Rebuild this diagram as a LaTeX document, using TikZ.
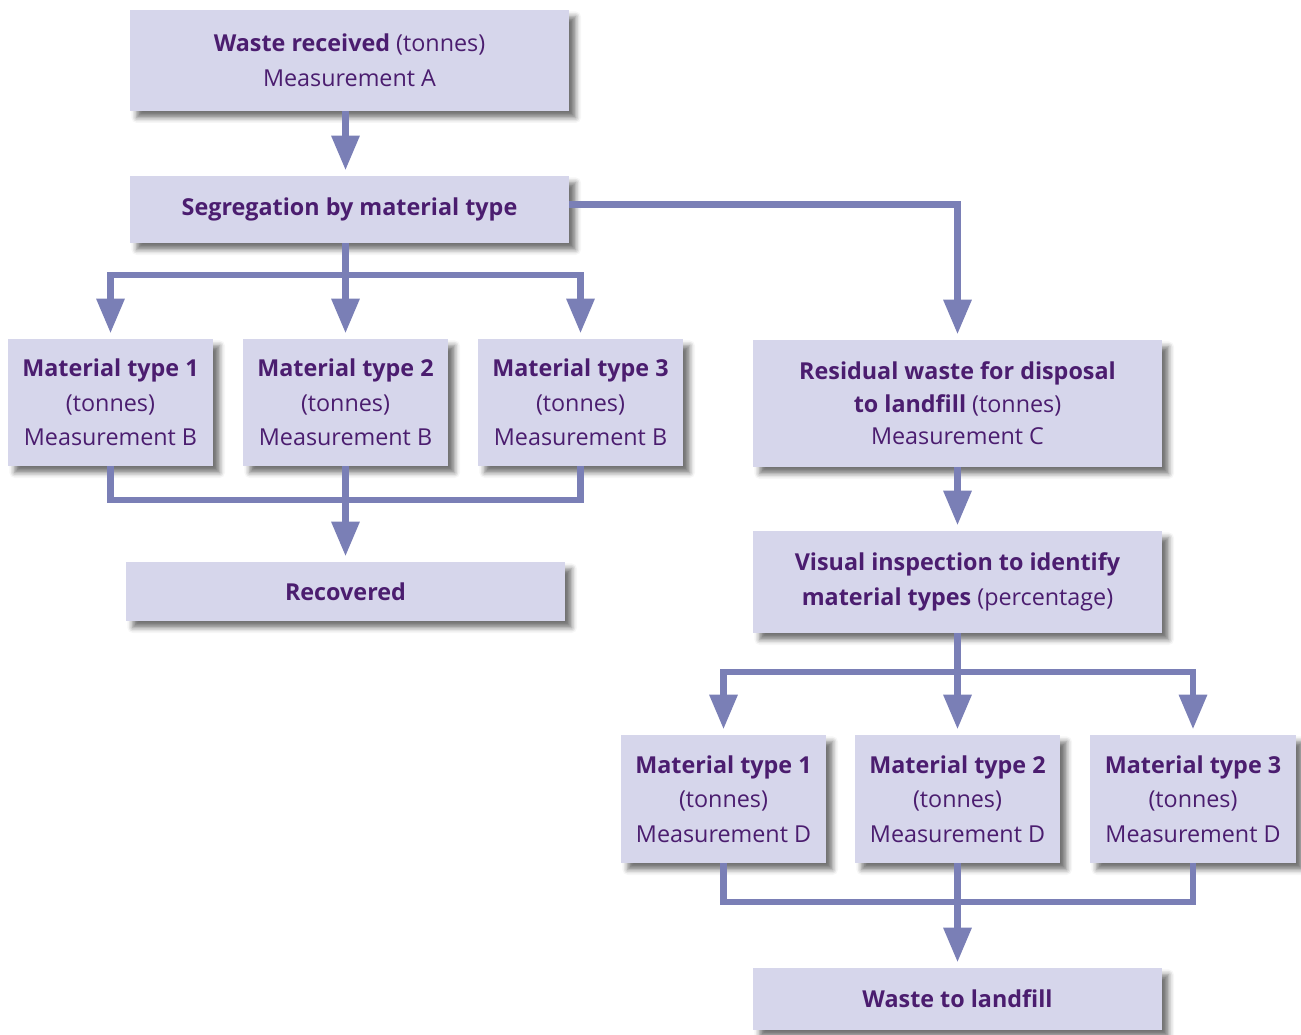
\documentclass[tikz,border=0pt]{standalone}
\usepackage{fontspec}
\setmainfont{Open Sans}
\usetikzlibrary{arrows.meta,shadows.blur}
\definecolor{boxfill}{HTML}{D6D6EB}
\definecolor{txt}{HTML}{4B1D6F}
\definecolor{conn}{HTML}{7A7FB6}
\begin{document}
\begin{tikzpicture}[x=0.75pt,y=-0.75pt,
  box/.style={fill=boxfill, text=txt, align=center, inner sep=0pt,
    font=\fontsize{17.5pt}{26pt}\selectfont,
    blur shadow={shadow xshift=5pt, shadow yshift=-5pt, shadow blur radius=4pt, shadow opacity=55}},
  line/.style={draw=conn, line width=5.2pt},
  arr/.style={line, -{Triangle[width=20pt,length=26pt]}, shorten >=4pt}]
\useasboundingbox (0,0) rectangle (1301,1034);

\node[box, minimum width=329.25pt, minimum height=75.75pt] (A) at (349.5,60.5) {\textbf{Waste received} (tonnes)\\Measurement A};
\node[box, minimum width=329.25pt, minimum height=50.25pt] (S) at (349.5,209.5) {\textbf{Segregation by material type}};

\node[box, minimum width=153.75pt, minimum height=95.25pt] (M1) at (110.5,402.5) {\textbf{Material type 1}\\(tonnes)\\Measurement B};
\node[box, minimum width=153.75pt, minimum height=95.25pt] (M2) at (345.5,402.5) {\textbf{Material type 2}\\(tonnes)\\Measurement B};
\node[box, minimum width=153.75pt, minimum height=95.25pt] (M3) at (580.5,402.5) {\textbf{Material type 3}\\(tonnes)\\Measurement B};
\node[box, minimum width=329.25pt, minimum height=44.25pt] (Rec) at (345.5,591.5) {\textbf{Recovered}};

\node[box, minimum width=306.75pt, minimum height=95.25pt, font=\fontsize{17.5pt}{24.5pt}\selectfont] (R) at (957.5,403.5) {\textbf{Residual waste for disposal}\\\textbf{to landfill} (tonnes)\\Measurement C};
\node[box, minimum width=306.75pt, minimum height=76.5pt] (V) at (957.5,582) {\textbf{Visual inspection to identify}\\\textbf{material types} (percentage)};

\node[box, minimum width=153.75pt, minimum height=96pt] (D1) at (723.5,799) {\textbf{Material type 1}\\(tonnes)\\Measurement D};
\node[box, minimum width=153.75pt, minimum height=96pt] (D2) at (957.5,799) {\textbf{Material type 2}\\(tonnes)\\Measurement D};
\node[box, minimum width=154.5pt, minimum height=96pt] (D3) at (1193,799) {\textbf{Material type 3}\\(tonnes)\\Measurement D};
\node[box, minimum width=306.75pt, minimum height=46.5pt] (W) at (957.5,999) {\textbf{Waste to landfill}};

% connectors
\draw[arr] (A.south -| M2) -- (S.north -| M2);
\coordinate (b1) at (345.5,275);
\draw[line] (S.south -| M2) -- (b1);
\draw[arr] (b1) -| (M1);
\draw[arr] (b1) -| (M3);
\draw[arr] (b1) -- (M2);
\draw[arr] ([yshift=3.4pt]S.east) -| (R);

\coordinate (b2) at (345.5,500);
\draw[line] (M1.south) |- (b2) -| (M3.south);
\draw[arr] (M2.south) -- (Rec);

\draw[arr] (R.south) -- (V.north);
\coordinate (b3) at (957.5,672);
\draw[line] (V.south) -- (b3);
\draw[arr] (b3) -| (D1);
\draw[arr] (b3) -| (D3);
\draw[arr] (b3) -- (D2);

\coordinate (b4) at (957.5,902);
\draw[line] (D1.south) |- (b4) -| (D3.south);
\draw[arr] (D2.south) -- (W);
\end{tikzpicture}
\end{document}
